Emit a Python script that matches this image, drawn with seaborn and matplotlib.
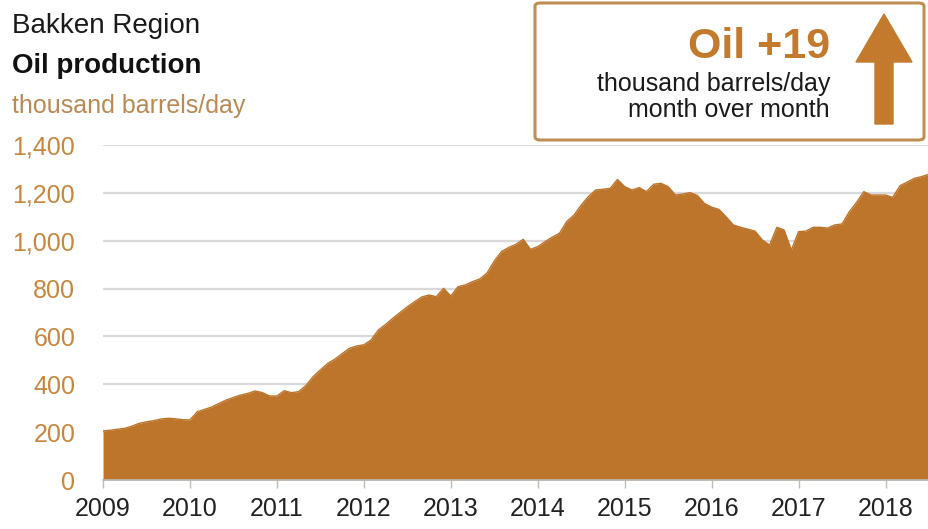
import numpy as np
import pandas as pd
import matplotlib
matplotlib.use("Agg")
import matplotlib.pyplot as plt
from matplotlib.patches import FancyBboxPatch, FancyArrow
import seaborn as sns

# ---- data (thousand barrels/day, monthly Jan 2009 - Jul 2018) ----
start_month = "2009-01"
prod_2009 = [205, 208, 212, 216, 225, 237, 243, 248, 255, 258, 256, 252]
prod_2010 = [251, 285, 295, 305, 320, 334, 345, 355, 362, 372, 365, 351]
prod_2011 = [351, 373, 365, 369, 395, 432, 460, 487, 505, 528, 550, 560]
prod_2012 = [565, 585, 627, 650, 676, 700, 724, 745, 765, 773, 766, 801]
prod_2013 = [769, 808, 815, 829, 840, 865, 915, 955, 972, 985, 1006, 964]
prod_2014 = [975, 996, 1015, 1031, 1080, 1107, 1149, 1185, 1212, 1215, 1219, 1256]
prod_2015 = [1226, 1212, 1222, 1205, 1236, 1240, 1226, 1191, 1195, 1201, 1190, 1156]
prod_2016 = [1140, 1131, 1100, 1066, 1056, 1048, 1040, 1003, 982, 1056, 1045, 961]
prod_2017 = [1038, 1040, 1056, 1056, 1053, 1066, 1070, 1121, 1160, 1205, 1191, 1191]
prod_2018 = [1191, 1181, 1230, 1245, 1261, 1268, 1278]

year_ticks = list(range(2009, 2019))
y_ticks = [0, 200, 400, 600, 800, 1000, 1200, 1400]

title_1 = "Bakken Region"
title_2 = "Oil production"
unit_label = "thousand barrels/day"
box_big = "Oil +19"
box_line1 = "thousand barrels/day"
box_line2 = "month over month"

values = (prod_2009 + prod_2010 + prod_2011 + prod_2012 + prod_2013 +
          prod_2014 + prod_2015 + prod_2016 + prod_2017 + prod_2018)
dates = pd.date_range(start_month, periods=len(values), freq="MS")
df = pd.DataFrame({"date": dates, "value": values})
df["t"] = df["date"].dt.year + (df["date"].dt.month - 1) / 12.0

# ---- style ----
sns.set_theme(style="white")
plt.rcParams["font.family"] = ["Liberation Sans", "DejaVu Sans"]

FILL = "#BD742B"
ORANGE = "#C47A2C"
YLAB = "#C8873E"
SUB = "#B98A55"
GRID = "#D9D9D9"

fig = plt.figure(figsize=(9.29, 5.29), dpi=100)
ax = fig.add_axes([103 / 929, 1 - 480 / 529, 1 - 103 / 929, (480 - 145) / 529])

ax.fill_between(df["t"], 0, df["value"], color=FILL, linewidth=0, zorder=3)
sns.lineplot(data=df, x="t", y="value", ax=ax, color=FILL, linewidth=1.0, zorder=3)

ax.set_xlim(2009, 2018.5)
ax.set_ylim(0, 1400)
ax.set_yticks(y_ticks)
ax.set_yticklabels([f"{v:,}" for v in y_ticks], color=YLAB, fontsize=18)
ax.set_xticks(year_ticks)
ax.set_xticklabels([str(y) for y in year_ticks], color="#222222", fontsize=18)
ax.set_xlabel("")
ax.set_ylabel("")
ax.yaxis.grid(True, color=GRID, linewidth=1.6, zorder=0)
ax.xaxis.grid(False)
ax.set_axisbelow(True)
for s in ["top", "right", "left"]:
    ax.spines[s].set_visible(False)
ax.spines["bottom"].set_color("#BBBBBB")
ax.spines["bottom"].set_linewidth(1.2)
ax.spines["bottom"].set_zorder(4)
ax.tick_params(axis="y", length=0, pad=20)
ax.tick_params(axis="x", length=6, width=1.0, color="#BBBBBB", pad=6, direction="out")
ax.tick_params(axis="x", bottom=True)

# ---- titles ----
fig.text(12 / 929, 1 - 33 / 529, title_1, fontsize=20, color="#1a1a1a", ha="left", va="baseline")
fig.text(12 / 929, 1 - 73 / 529, title_2, fontsize=20, fontweight="bold", color="#111111",
         ha="left", va="baseline")
fig.text(12 / 929, 1 - 113 / 529, unit_label, fontsize=18, color=SUB, ha="left", va="baseline")

# ---- callout box ----
box = FancyBboxPatch((535 / 929, 1 - 140 / 529), (924 - 535) / 929, (140 - 3) / 529,
                     boxstyle="round,pad=0,rounding_size=0.006", transform=fig.transFigure,
                     facecolor="white", edgecolor="#C08D55", linewidth=2.2, zorder=5)
fig.patches.append(box)
fig.text(830 / 929, 1 - 58 / 529, box_big, fontsize=31, fontweight="bold", color=ORANGE,
         ha="right", va="baseline", zorder=6)
fig.text(830 / 929, 1 - 91 / 529, box_line1, fontsize=18, color="#1a1a1a",
         ha="right", va="baseline", zorder=6)
fig.text(830 / 929, 1 - 117 / 529, box_line2, fontsize=18, color="#1a1a1a",
         ha="right", va="baseline", zorder=6)

# arrow in pixel-based figure coords (width perpendicular = x direction)
W, H = 929, 529
arrow = FancyArrow(884 / W, 1 - 124 / H, 0, (124 - 14) / H, width=18 / W,
                   head_width=56 / W, head_length=48 / H, length_includes_head=True,
                   transform=fig.transFigure, color=ORANGE, zorder=6)
fig.patches.append(arrow)

fig.savefig("out.png", dpi=100)
